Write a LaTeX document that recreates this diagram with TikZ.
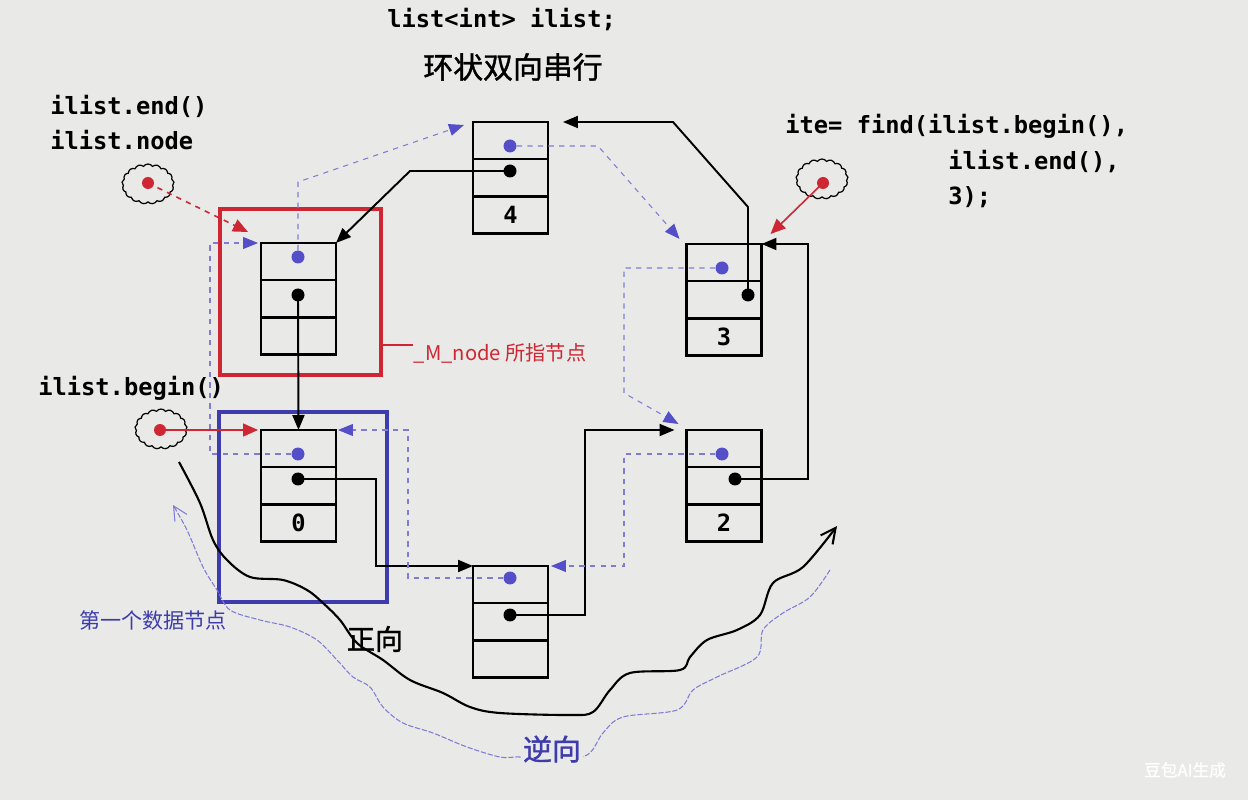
\documentclass[tikz,border=0pt]{standalone}
\usepackage{fontspec}
\setmonofont{DejaVu Sans Mono}
\newfontfamily\cjk{Noto Sans CJK SC}
\newfontfamily\cjkb{Noto Sans CJK SC}[FakeBold=1.2]
\usetikzlibrary{arrows.meta,positioning,calc,shapes.symbols}

\definecolor{bg}{RGB}{233,233,231}
\definecolor{redbox}{RGB}{206,38,50}
\definecolor{bluebox}{RGB}{62,60,172}
\definecolor{bluedot}{RGB}{84,78,200}
\definecolor{bluedash}{RGB}{128,124,214}

\tikzset{
  cell/.style={draw, line width=1.4pt, minimum width=1.5cm, minimum height=0.745cm,
    inner sep=0pt, outer sep=0pt, font=\ttfamily\bfseries\fontsize{13.5}{14}\selectfont},
  bdot/.style={circle, fill=black, inner sep=0pt, minimum size=0.26cm},
  pdot/.style={circle, fill=bluedot, inner sep=0pt, minimum size=0.26cm},
  rdot/.style={circle, fill=redbox, inner sep=0pt, minimum size=0.24cm},
  cloudy/.style={cloud, cloud puffs=17, cloud puff arc=110, aspect=1.3, draw,
    line width=0.7pt, minimum width=1.04cm, minimum height=0.8cm, inner sep=0pt},
  nextptr/.style={line width=1.1pt, -{Triangle[length=0.3cm,width=0.24cm]}},
  prevptr/.style={draw=bluedash, line width=0.6pt, dashed,
    -{Triangle[length=0.3cm,width=0.24cm,color=bluedot]}},
  redptr/.style={draw=redbox, line width=0.9pt, -{Triangle[length=0.3cm,width=0.26cm]}},
  code/.style={anchor=west, inner sep=0pt, font=\ttfamily\bfseries\fontsize{13.5}{14}\selectfont},
  zh/.style={inner sep=0pt, font=\cjk\fontsize{#1}{#1}\selectfont},
  zhb/.style={inner sep=0pt, font=\cjkb\fontsize{#1}{#1}\selectfont},
}

% one list node: name, x, top y, value
\newcommand\ListNode[4]{%
  \node[cell, anchor=north] (#1p) at (#2,#3) {};
  \node[cell, below=0pt of #1p] (#1n) {};
  \node[cell, below=0pt of #1n] (#1v) {#4};
}

\begin{document}
\begin{tikzpicture}[x=0.02cm, y=-0.02cm]
  \fill[bg] (0,0) rectangle (1248,800);
  \useasboundingbox (0,0) rectangle (1248,800);

  % texts
  \node[code] (decl) at (387,20) {list<int> ilist;};
  \node[zhb=17] (ttl) at (513,67) {环状双向串行};
  \node[code] (endtxt) at (50,106) {ilist.end()};
  \node[code] (nodetxt) at (50,140) {ilist.node};
  \node[code] (find1) at (785,126) {ite= find(ilist.begin(),};
  \node[code] (find2) at (948,162) {ilist.end(),};
  \node[code] (find3) at (948,197) {3);};
  \node[code] (begtxt) at (38,388) {ilist.begin()};

  % list nodes
  \ListNode{A}{298.5}{243}{}
  \ListNode{F}{510.5}{122}{4}
  \ListNode{T}{724}{244}{3}
  \ListNode{W}{724}{430}{2}
  \ListNode{B}{510.5}{566}{}
  \ListNode{Z}{298.5}{430}{0}

  % prev dots / next dots
  \node[pdot] (Ad) at (298,257) {};  \node[bdot] (An) at (298,295) {};
  \node[pdot] (Fd) at (510,146) {};  \node[bdot] (Fn) at (510,171) {};
  \node[pdot] (Td) at (722,268) {};  \node[bdot] (Tn) at (748,295) {};
  \node[pdot] (Wd) at (722,454) {};  \node[bdot] (Wn) at (735,479) {};
  \node[pdot] (Bd) at (510,578) {};  \node[bdot] (Bn) at (510,615) {};
  \node[pdot] (Zd) at (298,454) {};  \node[bdot] (Zn) at (298,479) {};

  % frames
  \draw[redbox, line width=2.3pt] (220,209) rectangle (381,375);
  \draw[bluebox, line width=2.3pt] (219,412) rectangle (387,602);
  \coordinate (mtag) at (381,345);
  \draw[redbox, line width=0.8pt] (mtag) -- ++(32,0) node[zh=11.5, anchor=west, text=redbox, yshift=-0.17cm] (mnode) {\_M\_node 所指节点};
  \node[zh=12, anchor=west, text=bluebox] (first) at (79,620) {第一个数据节点};

  % next pointers
  \draw[nextptr] (An.center) -- (Zp.north);
  \draw[nextptr] (Zn.center) -- ++(78,0) |- (Bp.north west);
  \draw[nextptr] (Bn.center) -- ++(75,0) |- ($(Wp.north west)+(-12,0)$);
  \draw[nextptr] (Wn.center) -- ++(73,0) |- (Tp.north east);
  \draw[nextptr] (Tn.center) -- ++(0,-88) -- ++(-75,-85) -- ($(Fp.north east)+(15,0)$);
  \draw[nextptr] (Fn.center) -- ++(-100,0) -- (Ap.north east);

  % prev pointers
  \draw[prevptr] (Ad) -- ++(0,-75) -- ($(Fp.north west)+(-9,3)$);
  \draw[prevptr] (Fd) -- ++(88,0) -- ($(Tp.north west)+(-7,-5)$);
  \draw[prevptr] (Td) -- ++(-98,0) -- ++(0,125) -- ($(Wp.north west)+(-8,-6)$);
  \draw[prevptr] (Wd) -- ++(-98,0) |- ($(Bp.north east)+(3,0)$);
  \draw[prevptr] (Bd) -- ++(-102,0) |- ($(Zp.north east)+(2,0)$);
  \draw[prevptr] (Zd) -- ++(-88,0) |- ($(Ap.north west)+(-3,0)$);

  % iterators
  \node[cloudy] (c1) at (148,184) {};
  \node[rdot] (r1) at (148,183) {};
  \node[cloudy] (c2) at (161,429) {};
  \node[rdot] (r2) at (160,430) {};
  \node[cloudy] (c3) at (822,179) {};
  \node[rdot] (r3) at (823,183) {};
  \draw[redptr, dashed] (r1.center) -- ($(Ap.north west)+(-13,-11)$);
  \draw[redptr] (r2.center) -- ($(Zp.north west)+(-3,0)$);
  \draw[redptr] (r3.center) -- ($(Tp.north east)+(9,-10)$);

  % direction curves
  \draw[line width=1.2pt, -{Straight Barb[length=0.3cm,width=0.3cm]}] plot[smooth, tension=0.55] coordinates {
    (179,462) (200,503) (213,540) (227,560) (250,577) (283,580) (307,590) (323,603)
    (340,620) (357,643) (383,660) (410,680) (443,693) (470,707) (500,713) (570,715)
    (593,712) (610,690) (630,673) (680,670) (690,657) (707,640) (737,630) (760,615)
    (773,583) (803,567) (837,526)};
  \node[zhb=16] (fwd) at (375,639) {正向};
  \draw[bluedash, line width=0.6pt, dash pattern=on 3pt off 1pt, -{Straight Barb[length=0.28cm,width=0.28cm]}] plot[smooth, tension=0.55] coordinates {
    (830,570) (810,597) (783,613) (763,630) (757,657) (717,677) (693,690) (677,710)
    (623,717) (603,733) (587,755) (552,760) (520,757) (500,757) (467,747) (433,733)
    (403,723) (383,707) (370,687) (353,677) (337,660) (317,640) (290,627) (260,620)
    (230,610) (217,590) (203,567) (187,530) (173,505)};
  \node[zhb=16.5, fill=bg, text=bluebox, inner sep=1pt] (bwd) at (552,749) {逆向};

  \node[zhb=9.5, text=white] (mark) at (1185,770) {豆包AI生成};
\end{tikzpicture}
\end{document}
